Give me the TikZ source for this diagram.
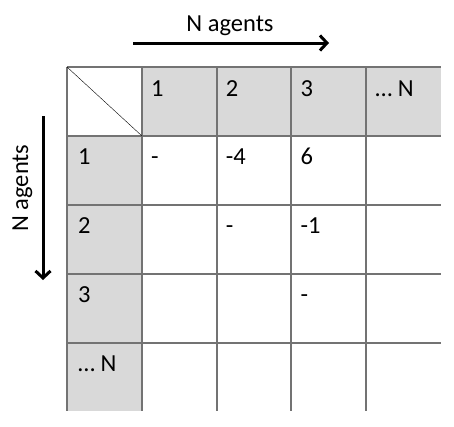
\documentclass[tikz,border=0pt]{standalone}
\usepackage{fontspec}
\setmainfont{Carlito}
\usetikzlibrary{arrows.meta}
\begin{document}
\begin{tikzpicture}[x=1pt,y=-1pt,line join=round,font=\fontsize{24.5}{28}\selectfont,
  cell/.style={anchor=base west,inner sep=0pt},
  grid/.style={black!55,line width=1.3pt},
  agentarrow/.style={line width=3pt,-{Straight Barb[length=7pt,width=15pt]}}]
\useasboundingbox (0,0) rectangle (454,426);
\fill[gray!30] (142,67) rectangle (441,136);
\fill[gray!30] (67,136) rectangle (142,411);
\foreach \x in {67,142,217,291,366}{
\draw[grid] (\x,67)--(\x,411);
}
\foreach \y in {67,136,205,274,343}{
\draw[grid] (67,\y)--(441,\y);
}
\draw[thin] (67,67)--(142,136);
% agent numbers
\foreach \lab [count=\i from 0] in {1,2,3,{… N}}{
\node[cell] (col\i) at (151+74.75*\i,96) {\lab};
\node[cell] (row\i) at (78,164+69*\i) {\lab};
}
% entries
\foreach \r/\c/\v in {0/0/-,0/1/-4,0/2/6,1/1/-,1/2/-1,2/2/-}{
\node[cell] (val\r\c) at (151+74.75*\c,164+69*\r) {\v};
}
\node[anchor=base] (toplab) at (230,31) {N agents};
\node[anchor=base,rotate=90] (leftlab) at (28,188) {N agents};
\coordinate (topA) at (133,43);
\coordinate (topB) at (329,43);
\coordinate (leftA) at (43,116);
\coordinate (leftB) at (43,280);
\draw[agentarrow] (topA)--(topB);
\draw[agentarrow] (leftA)--(leftB);
\end{tikzpicture}
\end{document}
